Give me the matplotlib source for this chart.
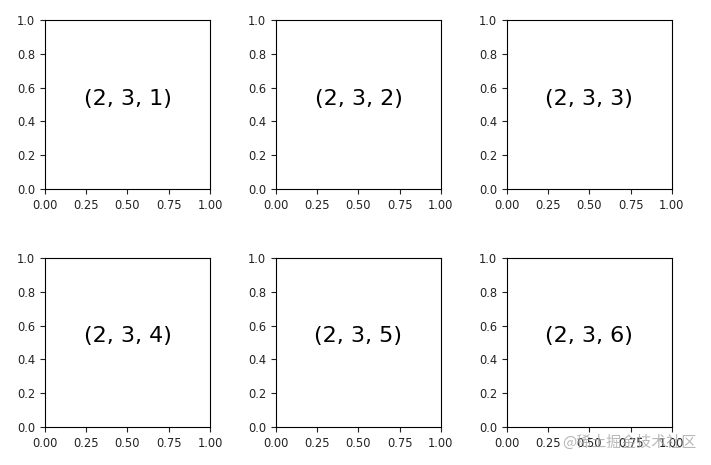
"""Six empty subplots in a 2x3 grid, each labelled with its subplot spec."""

import matplotlib

matplotlib.use("Agg")
import matplotlib.pyplot as plt

N_ROWS = 2
N_COLS = 3
panel_labels = [str((N_ROWS, N_COLS, i)) for i in range(1, N_ROWS * N_COLS + 1)]
watermark = "@稀土掘金技术社区"


def main() -> None:
    plt.rcParams["font.family"] = ["DejaVu Sans", "Noto Sans CJK SC"]
    fig = plt.figure(figsize=(7.11, 4.65), dpi=100)
    for i, label in enumerate(panel_labels, start=1):
        ax = fig.add_subplot(N_ROWS, N_COLS, i)
        ax.text(0.5, 0.5, label, fontsize=16, ha="center")
        ax.tick_params(labelsize=8.3, length=3.5, colors="#222222")
    fig.subplots_adjust(left=0.0633, right=0.945, bottom=0.0817, top=0.957,
                        wspace=0.4, hspace=0.408)
    # the reference's watermark sits over the last panel's tick labels
    fig.text(0.791, 0.049, watermark, fontsize=10.8, color="#a0a0a0", alpha=0.75,
             family=["Noto Sans CJK SC", "DejaVu Sans"], va="center")
    fig.savefig("out.png", dpi=100)
    plt.close(fig)


if __name__ == "__main__":
    main()
